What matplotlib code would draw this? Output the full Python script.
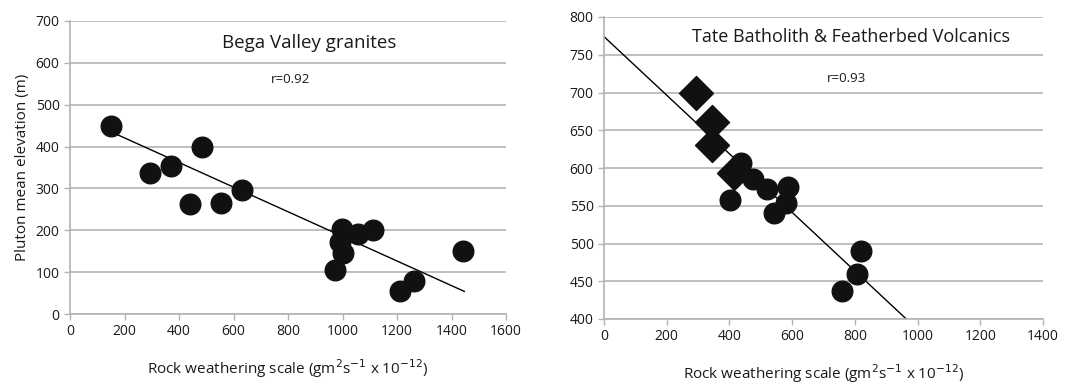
import matplotlib.pyplot as plt

plt.rcParams['font.family'] = ['Open Sans', 'DejaVu Sans']

# Bega Valley granites
bega_x = [150, 293, 370, 486, 440, 553, 632, 998, 992, 1001, 974, 1056, 1112, 1212, 1261, 1444]
bega_y = [448, 338, 353, 399, 263, 264, 297, 203, 172, 146, 106, 190, 200, 55, 80, 150]
bega_fit_x = [155, 1447]
bega_fit_y = [434, 54]

# Tate Batholith (circles) & Featherbed Volcanics (diamonds)
feather_x = [294, 344, 344, 416]
feather_y = [700, 661, 630, 593]
tate_x = [438, 475, 521, 403, 587, 581, 542, 818, 808, 759]
tate_y = [606, 586, 572, 558, 575, 553, 540, 490, 459, 437]
tate_fit_x = [0, 964]
tate_fit_y = [774, 400]

xlabel = 'Rock weathering scale (gm$^2$s$^{-1}$ x 10$^{-12}$)'
grid_col = '#b3b3b3'
text_col = '#1a1a1a'


def style_axes(ax):
    ax.grid(axis='y', color=grid_col, linewidth=1.2)
    ax.set_axisbelow(True)
    for s in ['top', 'right']:
        ax.spines[s].set_visible(False)
    for s in ['left', 'bottom']:
        ax.spines[s].set_color(grid_col)
        ax.spines[s].set_linewidth(1.2)
    ax.tick_params(colors=grid_col, labelcolor=text_col, labelsize=10, length=4, width=1)
    ax.set_xlabel(xlabel, fontsize=11, color=text_col, labelpad=13)


fig = plt.figure(figsize=(10.77, 3.87), dpi=100)
ax1 = fig.add_axes([70 / 1077, 1 - 314 / 387, 436 / 1077, 293 / 387])
ax2 = fig.add_axes([604 / 1077, 1 - 319 / 387, 439 / 1077, 302 / 387])

ax1.plot(bega_fit_x, bega_fit_y, color='black', linewidth=1)
ax1.scatter(bega_x, bega_y, s=220, color='#111111', zorder=3)
ax1.set_xlim(0, 1600)
ax1.set_ylim(0, 700)
ax1.set_xticks(range(0, 1601, 200))
ax1.set_yticks(range(0, 701, 100))
style_axes(ax1)
ax1.set_ylabel('Pluton mean elevation (m)', fontsize=11, color=text_col, labelpad=4)
ax1.text(0.548, 0.925, 'Bega Valley granites', transform=ax1.transAxes,
         ha='center', va='center', fontsize=13.5, color=text_col)
ax1.text(0.507, 0.80, 'r=0.92', transform=ax1.transAxes,
         ha='center', va='center', fontsize=9.5, color=text_col)

ax2.plot(tate_fit_x, tate_fit_y, color='black', linewidth=1)
ax2.scatter(tate_x, tate_y, s=220, color='#111111', zorder=3)
ax2.scatter(feather_x, feather_y, s=300, marker='D', color='#111111', zorder=3)
ax2.set_xlim(0, 1400)
ax2.set_ylim(400, 800)
ax2.set_xticks(range(0, 1401, 200))
ax2.set_yticks(range(400, 801, 50))
style_axes(ax2)
ax2.text(0.563, 0.934, 'Tate Batholith & Featherbed Volcanics', transform=ax2.transAxes,
         ha='center', va='center', fontsize=13, color=text_col)
ax2.text(0.553, 0.795, 'r=0.93', transform=ax2.transAxes,
         ha='center', va='center', fontsize=9.5, color=text_col)

fig.savefig('out.png', dpi=100)
